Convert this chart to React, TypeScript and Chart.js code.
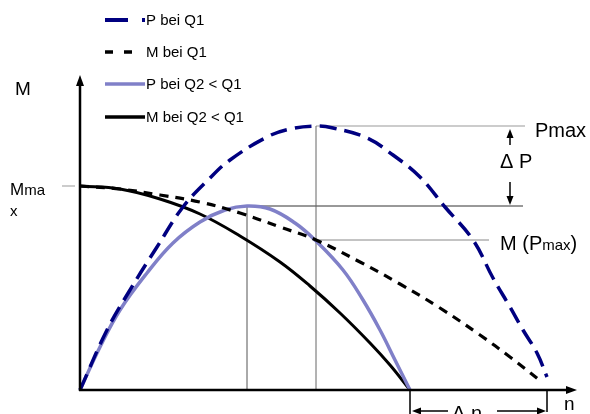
import React, { useEffect, useRef } from "react";
import { Chart, registerables } from "chart.js";

Chart.register(...registerables);

// Speed n (horizontal units) and values
const nPQ1 = [0, 27, 50, 77, 103, 130, 150, 187, 210, 236, 253, 287, 313, 340, 365, 393, 413, 430, 443, 457, 467];
const pQ1 = [0, 60, 100, 143, 183, 212, 230, 253, 261, 264, 262, 252, 235, 213, 183, 150, 112, 83, 60, 37, 13];

const nMQ1 = [0, 40, 80, 120, 160, 200, 236, 280, 320, 360, 400, 430, 462];
const mQ1 = [204, 201, 195, 188, 177, 163, 150, 128, 106, 82, 55, 33, 8];

const nPQ2 = [0, 20, 40, 67, 93, 120, 145, 167, 190, 215, 235, 263, 283, 300, 315, 330];
const pQ2 = [0, 43, 80, 117, 147, 168, 180, 184, 181, 167, 150, 120, 90, 60, 30, 0];

const nMQ2 = [0, 40, 80, 120, 160, 200, 230, 260, 290, 310, 330];
const mQ2 = [204, 201, 191, 176, 154, 128, 104, 77, 47, 25, 0];

const legendLabels = ["P bei Q1", "M bei Q1", "P bei Q2 < Q1", "M bei Q2 < Q1"];

const FONT = '"Liberation Sans", Arial, Helvetica, sans-serif';

const pts = (xs: number[], ys: number[]) => xs.map((v, i) => ({ x: v, y: ys[i] }));

const pMax = Math.max(...pQ1);
const nAtPMax = nPQ1[pQ1.indexOf(pMax)];
const p2Max = Math.max(...pQ2);
const nAtP2Max = nPQ2[pQ2.indexOf(p2Max)];
const mAtPMax = mQ1[nMQ1.indexOf(nAtPMax)];
const nEndQ2 = nPQ2[nPQ2.length - 1];
const nEndQ1 = nPQ1[nPQ1.length - 1];
const mMax = mQ1[0];

function arrow(ctx: CanvasRenderingContext2D, x1: number, y1: number, x2: number, y2: number, len = 9, half = 3.5) {
  const ang = Math.atan2(y2 - y1, x2 - x1);
  const bx = x2 - len * Math.cos(ang);
  const by = y2 - len * Math.sin(ang);
  ctx.beginPath();
  ctx.moveTo(x1, y1);
  ctx.lineTo(bx, by);
  ctx.stroke();
  ctx.beginPath();
  ctx.moveTo(x2, y2);
  ctx.lineTo(bx + half * Math.sin(ang), by - half * Math.cos(ang));
  ctx.lineTo(bx - half * Math.sin(ang), by + half * Math.cos(ang));
  ctx.closePath();
  ctx.fill();
}

function textRun(ctx: CanvasRenderingContext2D, parts: [string, number][], x: number, y: number) {
  let cx = x;
  for (const [t, size] of parts) {
    ctx.font = `${size}px ${FONT}`;
    ctx.fillText(t, cx, y);
    cx += ctx.measureText(t).width;
  }
}

const diagramPlugin = {
  id: "diagram",
  afterDatasetsDraw(chart: any) {
    const ctx: CanvasRenderingContext2D = chart.ctx;
    const xs = chart.scales.x;
    const ys = chart.scales.y;
    const X = (v: number) => xs.getPixelForValue(v);
    const Y = (v: number) => ys.getPixelForValue(v);
    ctx.save();
    ctx.setLineDash([]);
    ctx.fillStyle = "#000";
    ctx.strokeStyle = "#000";

    // axes
    ctx.lineWidth = 2.5;
    arrow(ctx, X(0), Y(0) + 1, X(0), Y(315), 11, 4);
    arrow(ctx, X(0) - 1, Y(0), X(497), Y(0), 11, 4);

    // ΔP arrows
    ctx.lineWidth = 1.5;
    arrow(ctx, X(430), Y(pMax - 19), X(430), Y(pMax - 3), 9, 3.5);
    arrow(ctx, X(430), Y(p2Max + 24), X(430), Y(p2Max + 1), 9, 3.5);

    // Δn arrows
    arrow(ctx, X(368), Y(-21), X(nEndQ2 + 2), Y(-21), 9, 3.5);
    arrow(ctx, X(417), Y(-21), X(nEndQ1 - 1), Y(-21), 9, 3.5);

    // labels
    ctx.textBaseline = "alphabetic";
    ctx.textAlign = "left";
    textRun(ctx, [["M", 19]], 15, 95);
    textRun(ctx, [["M", 17], ["ma", 15]], 10, 195);
    textRun(ctx, [["x", 15]], 10, 216);
    textRun(ctx, [["Pmax", 20]], 535, 137);
    textRun(ctx, [["\u0394 P", 20]], 500, 168);
    textRun(ctx, [["M (P", 20], ["max", 15], [")", 20]], 500, 250);
    textRun(ctx, [["\u0394 n", 20]], 452, 420);
    textRun(ctx, [["n", 19]], 564, 410);

    // legend
    const ds = chart.data.datasets;
    const rows = [20, 52, 84, 117];
    const legendDash = [[23, 14], [8, 11], [], []];
    const legendEnd = [145, 134, 145, 145];
    for (let i = 0; i < legendLabels.length; i++) {
      const d = ds[i];
      ctx.strokeStyle = d.borderColor;
      ctx.lineWidth = i === 0 ? 4 : 3.5;
      ctx.setLineDash(legendDash[i]);
      ctx.beginPath();
      ctx.moveTo(105, rows[i]);
      ctx.lineTo(legendEnd[i], rows[i]);
      ctx.stroke();
      ctx.setLineDash([]);
      ctx.fillStyle = "#000";
      ctx.font = `15px ${FONT}`;
      ctx.textBaseline = "middle";
      ctx.fillText(legendLabels[i], 146, rows[i] + 1);
    }
    ctx.restore();
  },
};

function refLine(a: [number, number], b: [number, number], color: string) {
  return {
    data: [
      { x: a[0], y: a[1] },
      { x: b[0], y: b[1] },
    ],
    borderColor: color,
    borderWidth: 1,
    pointRadius: 0,
    fill: false,
    tension: 0,
  };
}

export default function App() {
  const ref = useRef<HTMLCanvasElement | null>(null);
  useEffect(() => {
    if (!ref.current) return;
    const curve = { pointRadius: 0, fill: false, tension: 0.4 };
    const chart = new Chart(ref.current, {
      type: "line",
      data: {
        datasets: [
          { ...curve, label: legendLabels[0], data: pts(nPQ1, pQ1), borderColor: "#000080", borderWidth: 3.5, borderDash: [17, 8] },
          { ...curve, label: legendLabels[1], data: pts(nMQ1, mQ1), borderColor: "#000000", borderWidth: 3.2, borderDash: [9, 7] },
          { ...curve, label: legendLabels[2], data: pts(nPQ2, pQ2), borderColor: "#8080c8", borderWidth: 3.5 },
          { ...curve, label: legendLabels[3], data: pts(nMQ2, mQ2), borderColor: "#000000", borderWidth: 3 },
          refLine([nAtPMax, 0], [nAtPMax, pMax], "#666666"),
          refLine([nAtP2Max, 0], [nAtP2Max, p2Max], "#555555"),
          refLine([nAtPMax, pMax], [445, pMax], "#999999"),
          refLine([nAtP2Max, p2Max], [443, p2Max], "#333333"),
          refLine([nAtPMax, mAtPMax], [409, mAtPMax], "#888888"),
          refLine([-18, mMax], [-5, mMax], "#999999"),
          refLine([nEndQ2, 0], [nEndQ2, -24], "#222222"),
          refLine([nEndQ1, 0], [nEndQ1, -22], "#222222"),
        ],
      },
      options: {
        responsive: false,
        animation: false,
        parsing: true,
        layout: { padding: 0 },
        scales: {
          x: { type: "linear", min: -80, max: 510, display: false },
          y: { type: "linear", min: -24, max: 390, display: false },
        },
        plugins: {
          legend: { display: false },
          tooltip: { enabled: false },
        },
      },
      plugins: [diagramPlugin],
    });
    return () => chart.destroy();
  }, []);
  return (
    <div style={{ position: "fixed", left: 0, top: 0, width: 590, height: 414, background: "#fff" }}>
      <canvas ref={ref} width={590} height={414} />
    </div>
  );
}
